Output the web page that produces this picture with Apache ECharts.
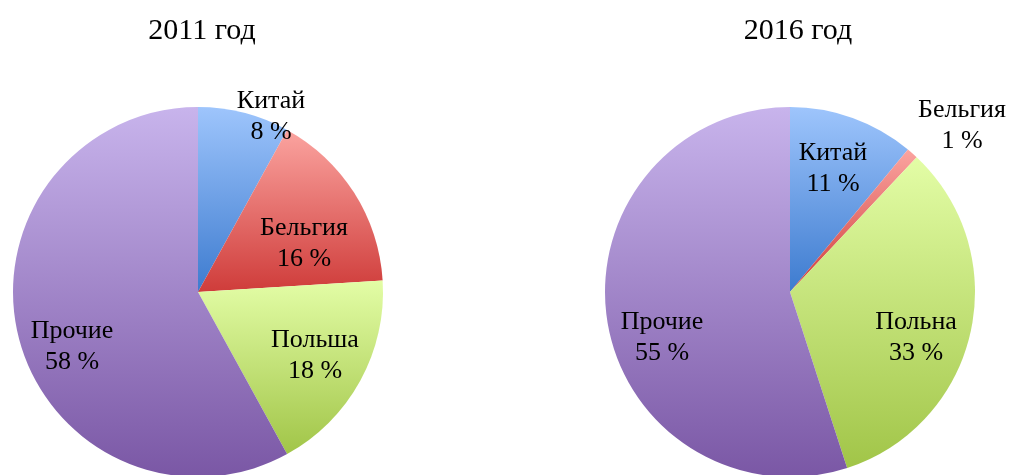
<!DOCTYPE html>
<html>
<head>
<meta charset="utf-8">
<script src="https://cdn.jsdelivr.net/npm/echarts@6/dist/echarts.min.js"></script>
<style>
  html, body { margin: 0; padding: 0; background: #fff; }
  #chart { width: 1010px; height: 475px; }
</style>
</head>
<body>
<div id="chart"></div>
<script>
// data
var years = ['2011 год', '2016 год'];
var names2011 = ['Китай', 'Бельгия', 'Польша', 'Прочие'];
var values2011 = [8, 16, 18, 58];
var names2016 = ['Китай', 'Бельгия', 'Польна', 'Прочие'];
var values2016 = [11, 1, 33, 55];

// slice gradients: [top, bottom]
var sliceColors = [
  ['#9ec5fc', '#3d7bcf'],
  ['#fba4a0', '#cf3c3a'],
  ['#e3fda6', '#a1c548'],
  ['#c8b4ec', '#7a57a5']
];

// label centres, per pie, per slice
var labelPos = [
  [[271, 117], [304, 244], [315, 356], [72, 347]],
  [[833, 169], [962, 126], [916, 338], [662, 338]]
];

function grad(i) {
  return new echarts.graphic.LinearGradient(0, 0, 0, 1, [
    { offset: 0, color: sliceColors[i][0] },
    { offset: 1, color: sliceColors[i][1] }
  ]);
}

function buildData(names, values) {
  return names.map(function (n, i) {
    return { name: n, value: values[i], itemStyle: { color: grad(i) } };
  });
}

var labelFont = {
  show: true,
  position: 'inside',
  formatter: '{b}\n{c} %',
  fontFamily: 'Liberation Serif',
  fontSize: 26,
  lineHeight: 31,
  color: '#000',
  align: 'center',
  verticalAlign: 'middle'
};

function pie(idx, center, names, values) {
  return {
    type: 'pie',
    center: center,
    radius: 185,
    startAngle: 90,
    clockwise: true,
    silent: true,
    animation: false,
    label: labelFont,
    labelLine: { show: false },
    labelLayout: function (p) {
      var xy = labelPos[idx][p.dataIndex];
      return { x: xy[0], y: xy[1], align: 'center', verticalAlign: 'middle' };
    },
    data: buildData(names, values)
  };
}

var chart = echarts.init(document.getElementById('chart'));
chart.setOption({
  backgroundColor: '#fff',
  title: [{
    text: years[0], left: 197, top: 11, textAlign: 'center',
    textStyle: { fontFamily: 'Liberation Serif', fontSize: 30, fontWeight: 'normal', color: '#000' }
  }, {
    text: years[1], left: 793, top: 11, textAlign: 'center',
    textStyle: { fontFamily: 'Liberation Serif', fontSize: 30, fontWeight: 'normal', color: '#000' }
  }],
  series: [
    pie(0, [198, 292], names2011, values2011),
    pie(1, [790, 292], names2016, values2016)
  ]
});
</script>
</body>
</html>
